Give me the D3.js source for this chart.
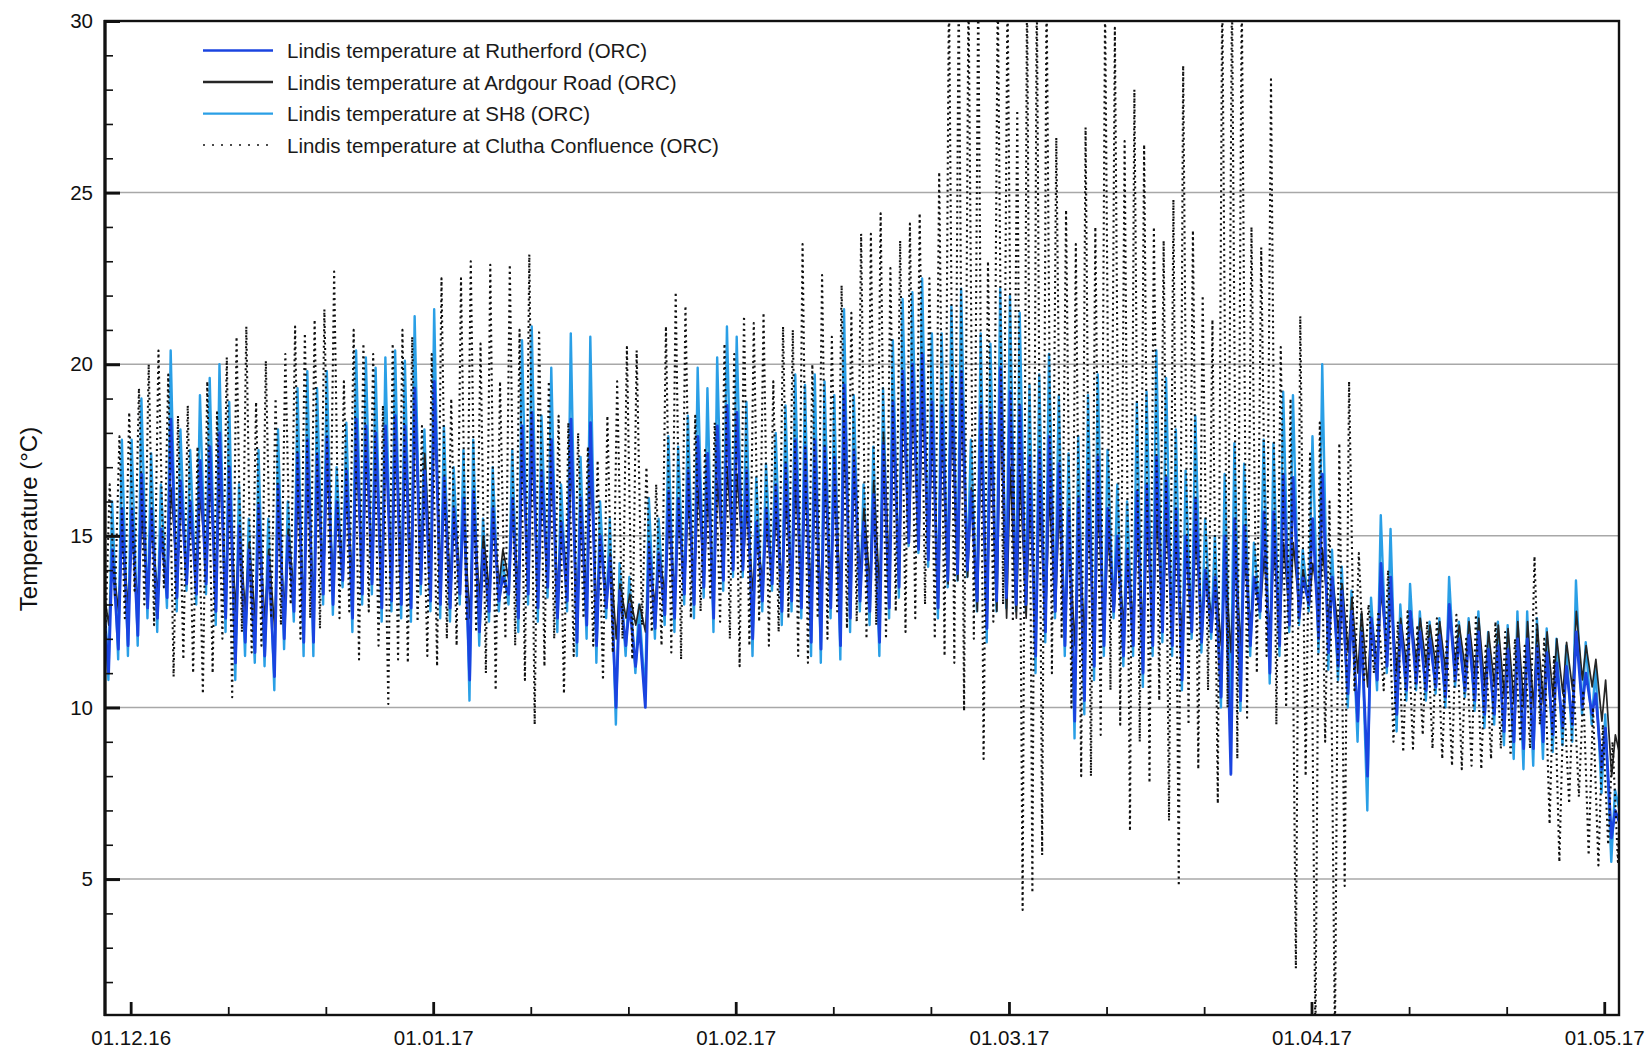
<!DOCTYPE html>
<html><head><meta charset="utf-8">
<script src="https://cdn.jsdelivr.net/npm/d3@7"></script>
<style>body{margin:0;background:#fff;} svg{display:block;font-family:"Liberation Sans",Arial,Helvetica,sans-serif;}</style>
</head><body><svg id="c" width="1650" height="1049"></svg>
<script>
// ---------------- DATA (daily max / min, first day = 28 Nov 2016, last = 2 May 2017) -------------
const firstDay = "2016-11-28";
const seriesNames = [
  "Lindis temperature at Rutherford (ORC)",
  "Lindis temperature at Ardgour Road (ORC)",
  "Lindis temperature at SH8 (ORC)",
  "Lindis temperature at Clutha Confluence (ORC)"
];
const xTickLabels = ["01.12.16","01.01.17","01.02.17","01.03.17","01.04.17","01.05.17"];
const yTickLabels = [5,10,15,20,25,30];

// SH8
const sh8Max = [
 14.5,16.0,17.8,
 17.8,19.0,17.4,16.5,20.4,18.1,17.5,19.1,19.6,20.0,18.9,16.5,15.5,17.5,15.5,18.1,16.0,19.3,19.8,19.3,19.8,17.0,18.3,20.4,20.2,19.9,20.2,20.4,20.1,21.4,18.1,
 21.6,18.2,17.0,17.5,17.8,15.5,17.0,14.3,17.5,20.7,21.1,18.5,19.9,16.5,20.9,17.3,20.8,16.0,15.5,14.2,13.8,13.0,16.1,15.5,17.9,17.6,18.5,19.9,19.3,20.2,21.1,
 20.8,18.9,16.7,17.1,18.0,18.8,19.7,19.4,19.7,19.5,19.1,21.6,19.1,16.5,17.6,19.3,20.7,21.9,22.1,22.5,20.9,20.9,21.7,22.2,17.8,20.9,20.6,22.2,
 22.0,21.5,19.4,19.7,20.3,19.1,17.4,17.9,19.1,19.7,17.5,16.5,16.0,18.9,19.2,20.4,19.6,18.1,16.9,18.5,15.5,15.0,16.8,17.7,17.1,14.8,17.8,17.7,19.2,19.1,14.6,
 17.9,20.0,14.6,14.1,13.4,12.7,13.2,15.6,15.2,13.0,13.6,12.8,12.5,12.6,13.8,12.5,12.6,12.8,12.2,12.5,12.4,12.8,12.8,12.6,12.3,12.0,11.8,13.7,11.9,11.2,
 9.8,7.6
];
const sh8Min = [
 10.8,11.4,11.5,
 11.8,12.6,12.2,12.9,12.8,13.4,13.0,13.3,12.4,12.2,10.8,11.5,11.3,11.2,10.5,11.7,12.5,11.5,11.5,13.0,12.7,13.5,12.2,13.0,13.3,12.5,12.8,12.6,12.5,13.3,12.8,
 12.6,12.5,13.0,10.2,11.8,12.5,12.8,13.0,12.2,13.0,12.5,13.2,12.2,12.8,11.5,12.0,11.3,12.6,9.5,11.5,11.0,10.3,12.0,12.4,12.2,13.0,12.6,13.2,12.2,13.4,13.8,
 13.8,11.5,12.8,13.4,12.4,12.8,12.6,11.5,11.3,12.6,11.4,12.2,12.8,12.4,11.5,12.6,13.2,14.7,14.5,14.1,12.6,13.5,13.7,13.8,12.8,11.9,12.8,12.9,
 12.8,12.8,11.0,11.9,12.6,11.5,9.1,9.8,10.8,11.5,12.6,11.2,11.5,10.6,11.5,11.9,11.5,10.5,12.0,11.6,12.0,10.0,9.8,9.9,11.5,12.6,10.7,11.5,12.2,12.4,12.8,
 11.6,11.1,10.8,10.0,9.0,7.0,10.5,11.0,9.3,10.2,10.5,10.2,10.4,10.0,10.6,10.3,9.9,9.4,9.5,8.9,8.5,8.2,8.3,8.5,8.7,8.9,9.0,9.8,9.5,7.5,
 5.5,6.8
];
// Rutherford
const ruthMax = [
 13.4,14.6,15.8,
 15.8,16.8,15.8,15.2,18.4,16.6,16.0,17.2,17.6,18.0,17.0,15.3,14.6,15.9,14.4,16.5,15.0,17.4,17.8,17.4,17.9,16.0,16.9,18.4,18.2,18.0,18.2,18.5,18.2,19.3,16.9,
 19.5,16.7,15.8,16.1,16.3,14.6,15.8,13.8,16.1,18.2,18.6,16.9,17.8,15.4,18.4,16.1,18.3,15.0,14.4,13.4,13.0,12.4,14.8,14.5,16.3,16.1,16.9,17.9,17.4,18.2,18.8,
 18.6,16.9,15.4,15.8,16.5,17.1,17.8,17.6,17.8,17.6,17.3,19.4,17.5,15.4,16.2,17.7,18.9,19.8,20.0,20.3,18.9,18.8,19.6,19.8,16.3,18.8,18.6,19.9,
 19.2,18.8,17.3,17.5,17.9,17.1,15.8,16.1,16.9,17.3,15.8,15.0,14.6,16.3,16.5,17.3,16.7,15.8,15.0,16.1,14.0,13.8,15.0,15.5,15.3,13.8,15.7,15.7,16.8,16.7,13.8,
 15.5,16.8,13.8,13.4,12.8,12.2,12.6,14.2,13.8,12.4,12.8,12.2,12.0,12.1,13.0,12.0,12.1,12.2,11.7,11.8,11.7,12.0,12.0,11.8,11.6,11.3,11.2,12.2,11.0,10.4,
 9.4,7.0
];
const ruthMin = [
 11.0,11.7,11.8,
 12.1,12.9,12.6,13.2,13.2,13.6,13.3,13.6,12.8,12.6,11.3,11.9,11.6,11.5,10.9,12.0,12.8,11.9,11.9,13.3,13.0,13.7,12.6,13.3,13.6,12.9,13.1,13.0,12.9,13.6,13.1,
 13.0,12.9,13.3,10.8,12.2,12.8,13.1,13.3,12.6,13.3,12.9,13.5,12.6,13.1,11.9,12.4,11.8,12.9,10.0,11.8,11.2,10.0,12.3,12.7,12.6,13.3,13.0,13.5,12.6,13.7,14.0,
 14.0,12.0,13.1,13.6,12.8,13.1,12.9,11.9,11.7,12.9,11.8,12.6,13.1,12.8,11.9,12.9,13.5,14.8,14.6,14.3,12.9,13.7,13.9,14.0,13.1,12.3,13.1,13.2,
 13.0,13.0,11.5,12.2,12.8,11.8,9.6,10.2,11.2,11.8,12.8,11.5,11.8,11.0,11.8,12.2,11.8,10.8,12.2,11.9,12.2,10.3,8.05,10.2,11.8,12.8,11.0,11.8,12.4,12.6,13.0,
 12.0,11.6,11.2,10.4,9.6,8.0,10.8,11.2,9.8,10.5,10.7,10.5,10.6,10.3,10.8,10.5,10.2,9.8,9.8,9.3,9.0,8.8,8.8,9.0,9.2,9.4,9.5,10.0,9.8,8.2,
 6.2,6.5
];
// Ardgour Road
const ardMax = [
 13.6,14.3,15.0,
 15.0,15.6,15.4,15.0,16.4,16.0,15.6,16.2,16.6,16.9,16.3,15.2,14.8,15.3,14.6,15.6,15.2,16.3,16.8,16.6,17.0,16.0,16.4,17.3,17.6,17.5,17.8,18.1,18.0,18.6,17.4,
 19.0,16.6,15.8,15.5,15.8,15.0,15.6,14.6,15.8,17.7,17.6,16.6,17.0,15.4,17.2,15.9,17.0,15.0,14.5,13.6,13.3,13.0,14.2,14.5,15.6,15.6,16.0,16.4,16.2,16.6,17.0,
 16.8,15.8,15.0,15.2,15.6,16.0,16.4,16.4,16.6,16.6,16.5,17.8,17.0,15.8,16.6,18.0,18.6,19.0,19.1,19.2,18.4,18.2,18.7,19.0,16.4,18.0,18.0,18.8,
 17.0,16.8,16.0,16.0,16.2,15.8,15.0,15.2,15.6,15.8,15.0,14.6,14.4,15.2,15.4,15.6,15.4,15.0,14.6,15.0,14.0,13.8,14.2,14.6,14.4,13.8,14.4,14.6,14.8,14.8,14.0,
 14.2,14.6,13.8,13.6,13.2,12.8,12.6,13.4,13.2,12.6,12.8,12.6,12.4,12.5,12.8,12.4,12.5,12.6,12.2,12.4,12.3,12.5,12.5,12.4,12.2,12.0,11.9,12.8,11.8,11.4,
 10.8,9.2
];
const ardMin = [
 12.4,12.8,12.9,
 13.0,13.4,13.3,13.6,13.8,14.0,13.8,14.0,13.6,13.4,12.8,12.8,12.6,12.5,12.3,12.8,13.3,13.0,13.0,13.8,13.6,14.0,13.5,13.8,14.0,13.6,13.7,13.8,13.7,14.0,13.8,
 13.8,13.6,13.8,12.6,13.2,13.4,13.6,13.7,13.3,13.7,13.4,13.8,13.3,13.6,12.8,13.1,12.7,13.2,12.0,12.6,12.4,12.2,13.0,13.3,13.3,13.7,13.5,13.8,13.4,14.0,14.2,
 14.2,13.4,13.7,14.0,13.6,13.8,13.7,13.2,13.1,13.6,13.2,13.5,13.8,13.6,13.3,13.7,14.0,14.8,14.7,14.5,13.2,13.6,13.7,13.8,12.8,12.6,12.8,12.6,
 12.6,12.6,12.4,12.6,12.8,12.4,11.8,12.0,12.2,12.4,12.8,12.4,12.4,12.2,12.4,12.6,12.4,12.0,12.6,12.4,12.6,11.8,11.6,11.8,12.4,12.8,12.2,12.4,12.6,12.8,13.0,
 13.0,12.6,12.2,11.6,11.0,10.6,11.2,11.6,11.0,11.2,11.3,11.2,11.2,11.0,11.3,11.1,10.9,10.6,10.6,10.3,10.1,10.0,10.0,10.1,10.3,10.4,10.5,10.8,10.6,9.6,
 8.0,8.4
];
// Clutha Confluence
const cluMax = [
 16.5,17.9,18.6,
 19.3,20.0,20.4,19.7,18.5,18.8,17.6,19.5,18.6,20.2,20.8,21.1,18.9,20.1,19.0,20.3,21.1,20.9,21.3,21.6,22.7,19.5,21.0,20.6,20.3,18.8,20.6,21.0,20.8,18.2,20.3,
 22.5,19.0,22.5,23.0,20.6,22.9,19.5,22.9,21.0,23.2,21.0,19.5,18.5,18.3,18.0,17.6,17.2,18.5,19.5,20.5,20.4,17.0,16.5,21.1,22.1,21.7,18.5,17.5,18.3,20.6,20.3,
 21.4,21.2,21.5,19.5,21.1,21.0,23.5,20.0,22.6,20.8,22.3,21.5,23.8,23.8,24.4,22.8,23.6,24.1,24.4,22.5,25.6,31.0,31.0,31.0,31.0,23.0,31.0,31.0,
 27.4,31.0,31.0,31.0,26.6,24.5,23.5,26.9,24.0,30.5,29.8,26.5,28.0,26.4,24.0,23.6,24.8,28.7,23.9,22.0,21.3,31.0,31.0,31.0,24.0,23.4,28.3,20.5,19.0,21.4,17.4,
 18.3,16.0,17.7,19.5,14.5,13.0,12.8,14.0,12.5,12.8,12.4,12.5,12.6,12.0,12.7,12.0,12.7,11.8,12.5,12.2,12.0,11.8,14.4,12.0,11.5,10.5,10.8,10.5,10.0,9.5,
 9.0,8.5
];
const cluMin = [
 12.0,13.2,12.6,
 13.4,13.0,12.4,13.5,10.9,11.4,11.0,10.4,11.0,12.0,10.3,12.2,11.6,11.8,12.6,12.4,13.0,12.0,12.6,12.3,13.4,12.6,12.8,11.4,12.8,11.8,10.1,11.4,11.3,12.5,11.5,
 11.2,12.0,11.8,12.5,12.2,11.0,10.5,12.0,11.8,10.8,9.5,11.2,12.0,10.4,11.5,12.6,11.8,10.8,11.6,12.0,11.4,12.4,12.2,11.8,11.6,11.4,12.6,12.8,13.2,12.5,12.0,
 11.2,11.8,12.5,11.8,12.2,12.6,11.5,11.3,12.6,12.0,12.8,12.3,12.5,12.0,12.4,12.0,12.8,12.2,12.6,13.0,12.0,11.5,11.3,9.9,12.0,8.5,12.5,13.0,
 12.5,4.1,4.6,5.7,11.0,12.0,10.0,8.0,8.0,9.2,10.5,9.5,6.4,9.0,7.8,10.2,6.7,4.8,9.5,8.2,10.5,7.2,10.0,8.5,9.7,11.0,11.5,9.5,10.0,2.4,8.0,
 0.3,9.0,0.3,4.8,10.5,10.8,11.0,10.5,9.0,8.7,8.8,9.2,8.8,8.5,8.3,8.2,8.3,8.2,8.5,8.8,8.6,9.0,8.8,9.5,6.6,5.5,7.2,7.4,5.7,5.4,
 6.0,5.5
];

// ---------------- CHART -------------
const DAY = 864e5;
const t0 = Date.parse(firstDay + "T00:00:00Z");
const svg = d3.select("#c");
const L = 105, R = 1619, T = 21, B = 1015;

const x = d3.scaleUtc()
  .domain([new Date(Date.UTC(2016,10,28,8,53)), new Date(Date.UTC(2017,4,2,12,15))])
  .range([L, R]);
const y = d3.scaleLinear().domain([1.04, 30]).range([B, T]);

function build(maxArr, minArr, fMax, fMin) {
  const pts = [];
  maxArr.forEach((v, i) => pts.push({t: new Date(t0 + (i + fMax) * DAY), v}));
  minArr.forEach((v, i) => pts.push({t: new Date(t0 + (i + fMin) * DAY), v}));
  pts.sort((a, b) => a.t - b.t);
  return pts;
}

const series = [
  {name: seriesNames[0], data: build(ruthMax, ruthMin, 0.12, 0.74), color: "#1a44e0", width: 2.8, dash: null},
  {name: seriesNames[1], data: build(ardMax, ardMin, 0.14, 0.76), color: "#262626", width: 1.7, dash: null},
  {name: seriesNames[2], data: build(sh8Max, sh8Min, 0.10, 0.72), color: "#2a9fe6", width: 2.4, dash: null},
  {name: seriesNames[3], data: build(cluMax, cluMin, 0.85, 0.40), color: "#111", width: 2.1, dash: "2,3.5"}
];
const drawOrder = [2, 1, 0, 3]; // SH8, Ardgour, Rutherford, Clutha on top

// grid
svg.append("g").selectAll("line").data(yTickLabels.filter(v => v < 30)).join("line")
  .attr("x1", L).attr("x2", R).attr("y1", d => y(d)).attr("y2", d => y(d))
  .attr("stroke", "#a8a8a8").attr("stroke-width", 1.5);

// clip
svg.append("defs").append("clipPath").attr("id", "clip")
  .append("rect").attr("x", L).attr("y", T).attr("width", R - L).attr("height", B - T);

const line = d3.line().x(d => x(d.t)).y(d => y(d.v));
const gLines = svg.append("g").attr("clip-path", "url(#clip)");
drawOrder.forEach(k => {
  const s = series[k];
  gLines.append("path").datum(s.data)
    .attr("fill", "none").attr("stroke", s.color).attr("stroke-width", s.width)
    .attr("stroke-linejoin", "round").attr("stroke-dasharray", s.dash)
    .attr("d", line);
});

// axes
const fontSize = 20.5;
const yMinor = d3.range(2, 30).filter(v => v % 5 !== 0);
const yMinorAxis = svg.append("g").attr("transform", `translate(${L},0)`)
  .call(d3.axisLeft(y).tickValues(yMinor).tickSize(-8).tickFormat(""));
yMinorAxis.select(".domain").remove();
yMinorAxis.selectAll("line").attr("stroke", "#111").attr("stroke-width", 1.6);

const yAxis = svg.append("g").attr("transform", `translate(${L},0)`)
  .call(d3.axisLeft(y).tickValues(yTickLabels).tickSize(-15).tickPadding(12));
yAxis.select(".domain").remove();
yAxis.selectAll("line").attr("stroke", "#111").attr("stroke-width", 3);
yAxis.selectAll("text").attr("font-size", fontSize).attr("fill", "#111")
  .attr("font-family", "Liberation Sans, Arial, sans-serif");

const monthTicks = [
  Date.UTC(2016,11,1), Date.UTC(2017,0,1), Date.UTC(2017,1,1),
  Date.UTC(2017,2,1), Date.UTC(2017,3,1), Date.UTC(2017,4,1)
].map(d => new Date(d));
const minorX = [];
monthTicks.forEach(m => { [10, 20].forEach(k => { const d = new Date(+m); d.setUTCDate(1 + k); if (d < x.domain()[1]) minorX.push(d); }); });

const xMinorAxis = svg.append("g").attr("transform", `translate(0,${B})`)
  .call(d3.axisBottom(x).tickValues(minorX).tickSize(-8).tickFormat(""));
xMinorAxis.select(".domain").remove();
xMinorAxis.selectAll("line").attr("stroke", "#111").attr("stroke-width", 1.8);

const xAxis = svg.append("g").attr("transform", `translate(0,${B})`)
  .call(d3.axisBottom(x).tickValues(monthTicks).tickSize(-13).tickPadding(15)
    .tickFormat((d, i) => xTickLabels[i]));
xAxis.select(".domain").remove();
xAxis.selectAll("line").attr("stroke", "#111").attr("stroke-width", 2.8);
xAxis.selectAll("text").attr("font-size", fontSize).attr("fill", "#111")
  .attr("font-family", "Liberation Sans, Arial, sans-serif");

// frame
svg.append("rect").attr("x", L).attr("y", T).attr("width", R - L).attr("height", B - T)
  .attr("fill", "none").attr("stroke", "#111").attr("stroke-width", 2.4);
svg.append("line").attr("x1", L).attr("x2", L).attr("y1", T - 1).attr("y2", B + 1)
  .attr("stroke", "#111").attr("stroke-width", 3.2);

// y title
svg.append("text").attr("transform", `translate(28,519) rotate(-90)`)
  .attr("text-anchor", "middle").attr("dominant-baseline", "central")
  .attr("font-size", 24).attr("fill", "#111").text("Temperature (°C)");

// legend
const legRows = [50.5, 82, 113.6, 145];
const leg = svg.append("g");
series.forEach((s, i) => {
  leg.append("line").attr("x1", 203).attr("x2", 273).attr("y1", legRows[i]).attr("y2", legRows[i])
    .attr("stroke", s.color).attr("stroke-width", s.dash ? 1.6 : 2.4).attr("stroke-dasharray", s.dash ? "2,7" : null);
  leg.append("text").attr("x", 287).attr("y", legRows[i]).attr("dominant-baseline", "central")
    .attr("font-size", fontSize).attr("fill", "#1a1a1a").text(s.name);
});
</script></body></html>
